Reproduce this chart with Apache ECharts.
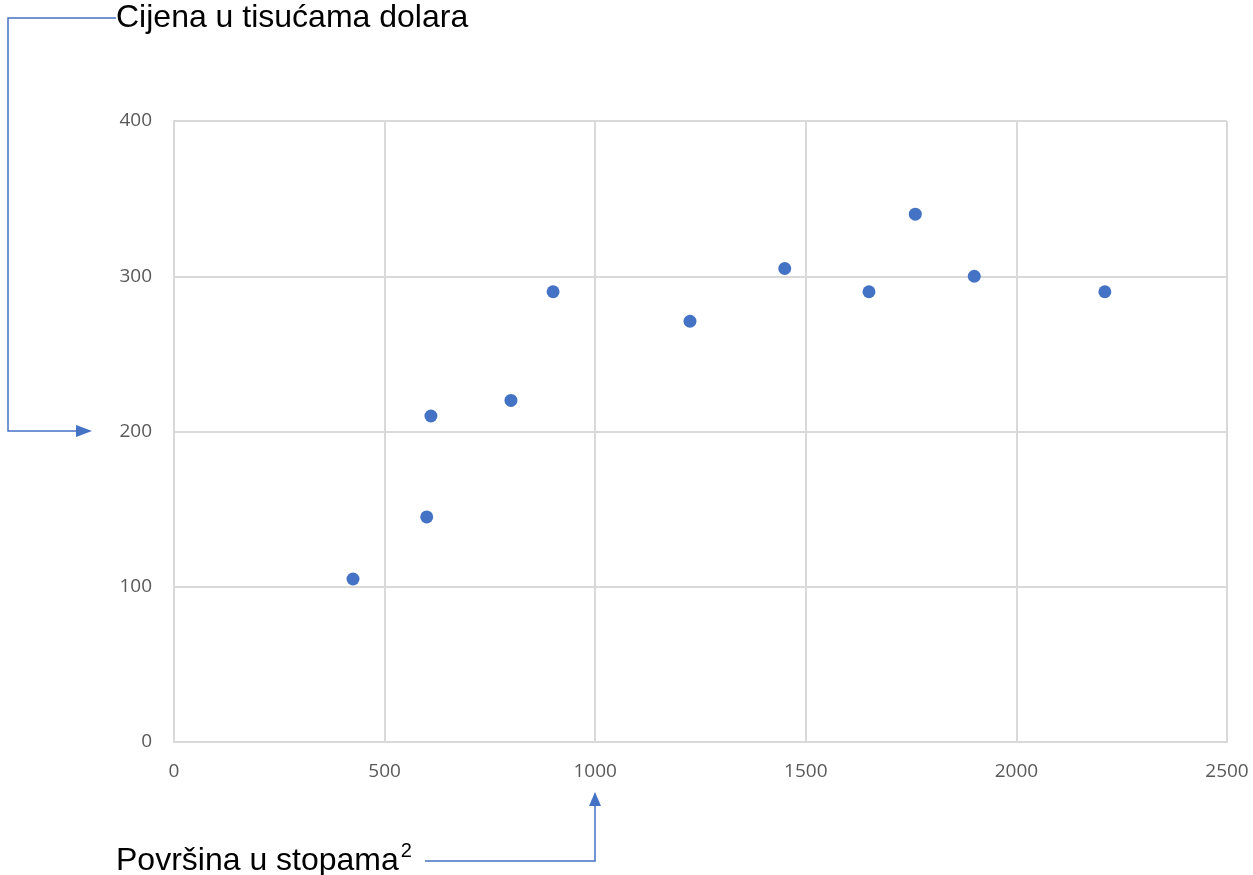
<!DOCTYPE html>
<html>
<head>
<meta charset="utf-8">
<script src="https://cdn.jsdelivr.net/npm/echarts@6/dist/echarts.min.js"></script>
<style>html,body{margin:0;padding:0;background:#fff}#c{width:1253px;height:875px}</style>
</head>
<body>
<div id="c"></div>
<script>
var areaSqft = [425, 600, 610, 800, 900, 1225, 1450, 1650, 1760, 1900, 2210];
var priceK   = [105, 145, 210, 220, 290, 271, 305, 290, 340, 300, 290];
var xTicks = [0, 500, 1000, 1500, 2000, 2500];
var yTicks = [0, 100, 200, 300, 400];
var yTitle = 'Cijena u tisućama dolara';
var xTitle = 'Površina u stopama';

var points = areaSqft.map(function (x, i) { return [x, priceK[i]]; });
var chart = echarts.init(document.getElementById('c'));
var blue = '#4472C4';
var gridC = '#d9d9d9';
chart.setOption({
  animation: false,
  backgroundColor: '#fff',
  grid: { left: 174, right: 26, top: 121, bottom: 133, containLabel: false },
  xAxis: {
    type: 'value', min: xTicks[0], max: xTicks[xTicks.length - 1], interval: 500,
    axisLine: { show: true, lineStyle: { color: gridC, width: 2 } },
    axisTick: { show: false },
    splitLine: { show: true, lineStyle: { color: gridC, width: 2 } },
    axisLabel: { color: '#595959', fontSize: 19, fontFamily: 'Open Sans, sans-serif', margin: 20,
      formatter: function (v) { return String(v); } }
  },
  yAxis: {
    type: 'value', min: yTicks[0], max: yTicks[yTicks.length - 1], interval: 100,
    axisLine: { show: true, lineStyle: { color: gridC, width: 2 } },
    axisTick: { show: false },
    splitLine: { show: true, lineStyle: { color: gridC, width: 2 } },
    axisLabel: { color: '#595959', fontSize: 19, fontFamily: 'Open Sans, sans-serif', margin: 22, padding: [3, 0, 0, 0],
      formatter: function (v) { return String(v); } }
  },
  series: [{
    type: 'scatter', data: points, symbolSize: 13,
    itemStyle: { color: blue, opacity: 1 }
  }],
  graphic: [
    { type: 'text', left: 116, top: 2, style: { text: yTitle, fill: '#000', font: '32px "Liberation Sans", Arial, sans-serif' } },
    { type: 'text', left: 116, top: 841, style: {
        text: '{a|' + xTitle + '}{s|2}',
        rich: {
          a: { fill: '#000', fontSize: 32, fontFamily: '"Liberation Sans", Arial, sans-serif', verticalAlign: 'bottom', lineHeight: 36 },
          s: { fill: '#000', fontSize: 20, fontFamily: '"Liberation Sans", Arial, sans-serif', verticalAlign: 'top', lineHeight: 36, padding: [0, 0, 14, 2] }
        }
      } },
    { type: 'polyline', shape: { points: [[116, 18], [8, 18], [8, 431], [78, 431]] }, style: { stroke: blue, lineWidth: 1.5, fill: null } },
    { type: 'polygon', shape: { points: [[76, 425], [92, 431], [76, 437]] }, style: { fill: blue } },
    { type: 'polyline', shape: { points: [[425, 861], [595, 861], [595, 806]] }, style: { stroke: blue, lineWidth: 1.5, fill: null } },
    { type: 'polygon', shape: { points: [[589, 806], [595, 792], [601, 806]] }, style: { fill: blue } }
  ]
});
</script>
</body>
</html>
